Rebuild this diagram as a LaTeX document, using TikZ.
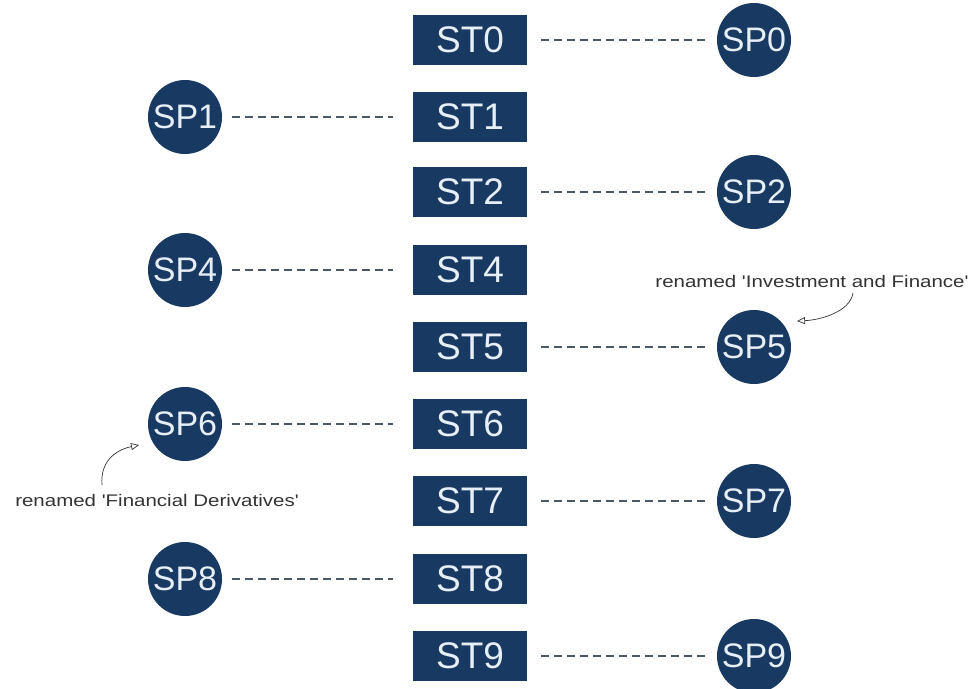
\documentclass[tikz,border=0pt]{standalone}
\usepackage{fontspec}
\setmainfont{Liberation Sans}
\newfontfamily\notefont[FakeStretch=1.22,Ligatures=TeXOff]{Liberation Sans}
\usetikzlibrary{arrows.meta}
\definecolor{navy}{HTML}{183A62}
\definecolor{txtw}{HTML}{E6EEF6}
\definecolor{dashc}{HTML}{4A5866}
\begin{document}
\begin{tikzpicture}[x=1pt,y=-1pt,
  stbox/.style={fill=navy,minimum width=114pt,minimum height=50pt,inner sep=0pt,text=txtw,font=\fontsize{37}{37}\selectfont},
  spcirc/.style={circle,fill=navy,minimum size=74pt,inner sep=0pt,text=txtw,font=\fontsize{34}{34}\selectfont},
  link/.style={dashc,line width=1.4pt,dash pattern=on 8pt off 5pt},
  note/.style={font=\notefont\fontsize{16.8}{16.8}\selectfont,text=black!80,inner sep=0pt},
  notearrow/.style={black!80,line width=0.7pt,-{Triangle[open,length=8pt,width=7pt]}}]
\useasboundingbox (0,0) rectangle (971,688);
\foreach \n/\y in {0/40,1/117,2/192,4/270,5/347,6/424,7/501,8/579,9/656}{
  \node[stbox] (st\n) at (470,\y) {ST\n};
}
\foreach \n/\y in {0/40,2/192,5/347,7/501,9/656}{
  \node[spcirc] (sp\n) at (754,\y) {SP\n};
  \draw[link] ([xshift=14pt]st\n.east) -- ([xshift=-12pt]sp\n.west);
}
\foreach \n/\y in {1/117,4/270,6/424,8/579}{
  \node[spcirc] (sp\n) at (185,\y) {SP\n};
  \draw[link] ([xshift=10pt]sp\n.east) -- ([xshift=-20pt]st\n.west);
}
\node[note] (n5) at (812,281) {renamed 'Investment and Finance'};
\node[note] (n6) at (157,500) {renamed 'Financial Derivatives'};
\coordinate (a5) at (853,293);
\coordinate (h5) at (797,321);
\draw[notearrow] (a5) .. controls (850,312) and (820,320) .. (h5);
\coordinate (a6) at (102,485);
\coordinate (h6) at (139,445);
\draw[notearrow] (a6) .. controls (100,462) and (115,450) .. (h6);
\end{tikzpicture}
\end{document}
